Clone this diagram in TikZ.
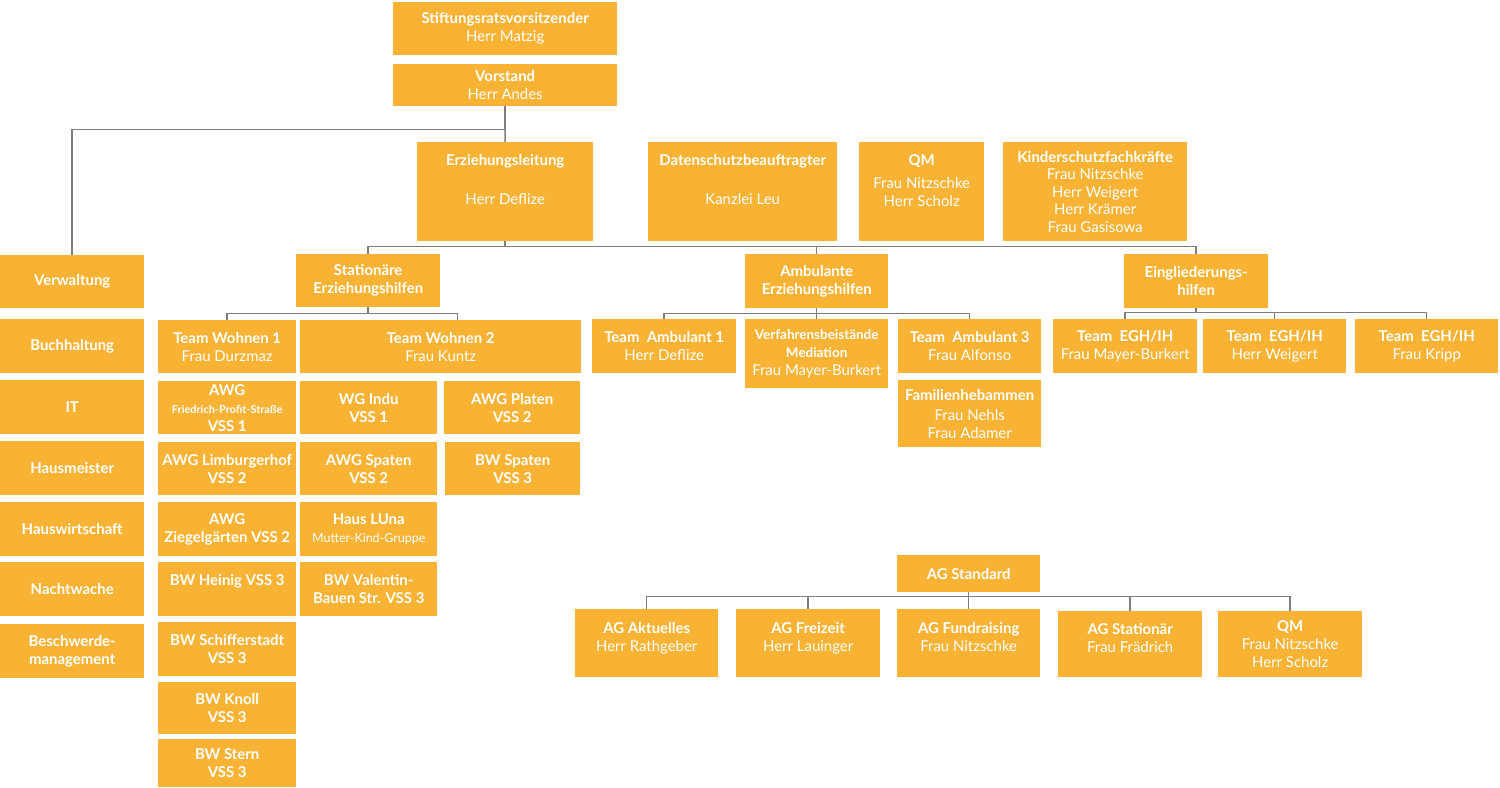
\documentclass[tikz,border=0pt]{standalone}
\usepackage{fontspec}
\setmainfont{Lato}
\definecolor{orgorange}{HTML}{F8B335}
\definecolor{orgline}{HTML}{7E7E7E}
\newcommand{\smallbold}[1]{{\fontsize{13.5}{16}\selectfont\bfseries #1}}

\begin{document}
\begin{tikzpicture}[x=1bp, y=-1bp,
  box/.style={rectangle, fill=orgorange, text=white, anchor=north west, inner sep=0pt, align=center, minimum width=143bp, minimum height=53bp, font=\fontsize{15}{18}\selectfont},
  head/.style={box, font=\fontsize{15}{18}\selectfont\bfseries},
  link/.style={draw=orgline, line width=1.5bp}]
\useasboundingbox (0,0) rectangle (1500,787);

% top
\node[box, minimum width=224bp] (stiftung) at (393,2) {\textbf{Stiftungsratsvorsitzender}\\Herr Matzig};
\node[box, minimum width=224bp, minimum height=42bp] (vorstand) at (393,64) {\textbf{Vorstand}\\Herr Andes};
\node[box, minimum width=176bp, minimum height=99bp] (erzleit) at (417,142) {\textbf{Erziehungsleitung}\\[21bp]Herr Deflize\\[6bp]\mbox{}};
\node[box, minimum width=189bp, minimum height=99bp] (datenschutz) at (648,142) {\textbf{Datenschutzbeauftragter}\\[21bp]Kanzlei Leu\\[6bp]\mbox{}};
\node[box, minimum width=125bp, minimum height=99bp] (qmleit) at (859,142) {\textbf{QM}\\[5bp]Frau Nitzschke\\Herr Scholz\\[4bp]\mbox{}};
\node[box, minimum width=184bp, minimum height=99bp, font=\fontsize{15}{17.5}\selectfont] (kinderschutz) at (1003,142) {\textbf{Kinderschutzfachkräfte}\\Frau Nitzschke\\Herr Weigert\\Herr Krämer\\Frau Gasisowa};

% left column
\node[head, minimum width=144bp] (verwaltung) at (0,255) {Verwaltung};
\node[head, minimum width=144bp, minimum height=54bp] (buchhaltung) at (0,319) {Buchhaltung};
\node[head, minimum width=144bp, minimum height=54bp] (it) at (0,380) {IT};
\node[head, minimum width=144bp, minimum height=54bp] (hausmeister) at (0,441) {Hausmeister};
\node[head, minimum width=144bp, minimum height=54bp] (hauswirtschaft) at (0,502) {Hauswirtschaft};
\node[head, minimum width=144bp, minimum height=54bp] (nachtwache) at (0,562) {Nachtwache};
\node[head, minimum width=144bp, minimum height=54bp] (beschwerde) at (0,624) {Beschwerde-\\management};

% areas
\node[head, minimum width=144bp] (stationaer) at (296,254) {Stationäre\\Erziehungshilfen};
\node[head, minimum height=54bp] (ambulant) at (745,254) {Ambulante\\Erziehungshilfen};
\node[head, minimum width=144bp, minimum height=54bp] (eingl) at (1124,254) {Eingliederungs-\\hilfen};

% stationaer
\node[box, minimum width=138bp] (wohnen1) at (158,320) {\textbf{Team Wohnen 1}\\Frau Durzmaz};
\node[box, minimum width=281bp] (wohnen2) at (300,320) {\textbf{Team Wohnen 2}\\Frau Kuntz};
\node[head, minimum width=138bp] (awgfried) at (158,381) {AWG\\{\fontsize{11}{12}\selectfont Friedrich-Profit-Straße}\\VSS 1};
\node[head, minimum width=137bp] (wgindu) at (300,381) {WG Indu\\VSS 1};
\node[head, minimum width=136bp] (awgplaten) at (444,381) {AWG Platen\\VSS 2};
\node[head, minimum width=138bp] (awglimb) at (158,442) {AWG Limburgerhof\\VSS 2};
\node[head, minimum width=137bp] (awgspaten) at (300,442) {AWG Spaten\\VSS 2};
\node[head, minimum width=135bp] (bwspaten) at (445,442) {BW Spaten\\VSS 3};
\node[head, minimum width=138bp, minimum height=54bp] (awgziegel) at (158,502) {AWG\\Ziegelgärten VSS 2};
\node[box, minimum width=137bp, minimum height=54bp] (hausluna) at (300,502) {\textbf{Haus LUna}\\{\fontsize{12.5}{12}\selectfont Mutter-Kind-Gruppe}};
\node[head, minimum width=138bp, minimum height=54bp] (bwheinig) at (158,562) {BW Heinig VSS 3\\\mbox{}};
\node[head, minimum width=137bp, minimum height=54bp] (bwvalentin) at (300,562) {BW Valentin-\\Bauen Str. VSS 3};
\node[head, minimum width=138bp, minimum height=54bp] (bwschiffer) at (158,622) {BW Schifferstadt\\VSS 3};
\node[head, minimum width=138bp, minimum height=52bp] (bwknoll) at (158,682) {BW Knoll\\VSS 3};
\node[head, minimum width=138bp, minimum height=48bp] (bwstern) at (158,739) {BW Stern\\VSS 3};

% ambulant
\node[box, minimum width=144bp, minimum height=54bp] (amb1) at (592,319) {\textbf{Team~~Ambulant 1}\\Herr Deflize};
\node[box, minimum height=69bp] (verfahren) at (745,319) {\smallbold{Verfahrensbeistände}\\\smallbold{Mediation}\\Frau Mayer-Burkert};
\node[box, minimum height=54bp] (amb3) at (898,319) {\textbf{Team~~Ambulant 3}\\Frau Alfonso};
\node[box, minimum height=67bp] (familien) at (898,380) {\textbf{Familienhebammen}\\[2bp]Frau Nehls\\Frau Adamer};

% eingliederung
\node[box, minimum width=144bp, minimum height=54bp] (egh1) at (1053,319) {\textbf{Team~~EGH/IH}\\Frau Mayer-Burkert};
\node[box, minimum height=54bp] (egh2) at (1203,319) {\textbf{Team~~EGH/IH}\\Herr Weigert};
\node[box, minimum height=54bp] (egh3) at (1355,319) {\textbf{Team~~EGH/IH}\\Frau Kripp};

% AGs
\node[head, minimum height=37bp] (agstandard) at (897,555) {AG Standard};
\node[box, minimum height=68bp] (agaktuell) at (575,609) {\textbf{AG Aktuelles}\\Herr Rathgeber\\[-6bp]\mbox{}};
\node[box, minimum width=144bp, minimum height=68bp] (agfreizeit) at (736,609) {\textbf{AG Freizeit}\\Herr Lauinger\\[-6bp]\mbox{}};
\node[box, minimum height=68bp] (agfund) at (897,609) {\textbf{AG Fundraising}\\Frau Nitzschke\\[-6bp]\mbox{}};
\node[box, minimum width=144bp, minimum height=66bp] (agstation) at (1058,611) {\textbf{AG Stationär}\\Frau Frädrich\\[-6bp]\mbox{}};
\node[box, minimum width=144bp, minimum height=66bp] (agqm) at (1218,611) {\textbf{QM}\\Frau Nitzschke\\Herr Scholz};

% connectors
\draw[link] (vorstand.south) -- ++(0,23) coordinate (vsplit) -| (verwaltung.north);
\draw[link] (vsplit) -- (erzleit.north);

\draw[link] (erzleit.south) -- ++(0,5) coordinate (erzbus) -| (stationaer.north);
\draw[link] (erzbus) -| (ambulant.north);
\draw[link] (erzbus) -| (eingl.north);

\draw[link] (stationaer.south) -- ++(0,6) coordinate (statbus) -| (wohnen1.north);
\draw[link] (statbus) -| ([xshift=17bp]wohnen2.north);

\draw[link] (ambulant.south) -- ++(0,5) coordinate (ambbus) -| (amb1.north);
\draw[link] (ambbus) -- (verfahren.north);
\draw[link] (ambbus) -| (amb3.north);

\draw[link] (eingl.south) -- ++(0,4) coordinate (eglbus) -| (egh1.north);
\draw[link] (eglbus) -| (egh2.north);
\draw[link] (eglbus) -| (egh3.north);

\draw[link] (agstandard.south) -- ++(0,4) coordinate (agbus) -| (agaktuell.north);
\draw[link] (agbus) -| (agfreizeit.north);
\draw[link] (agbus) -- (agfund.north);
\draw[link] (agbus) -| (agstation.north);
\draw[link] (agbus) -| (agqm.north);

\end{tikzpicture}
\end{document}
